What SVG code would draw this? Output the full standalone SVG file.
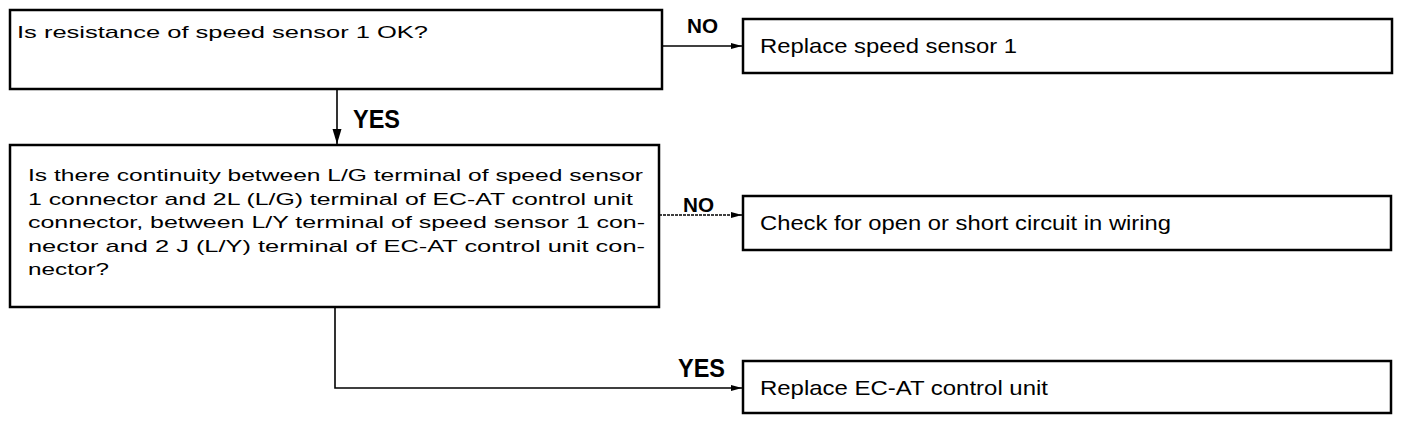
<svg xmlns="http://www.w3.org/2000/svg" width="1408" height="422" viewBox="0 0 1408 422">
<style>
.box{fill:#fff;stroke:#000;stroke-width:2.5}
.t{font-family:"Liberation Sans",Arial,sans-serif;font-size:17px;fill:#000}
.tr{font-family:"Liberation Sans",Arial,sans-serif;font-size:21px;fill:#000}
.lbl{font-family:"Liberation Sans",Arial,sans-serif;font-weight:bold;fill:#000}
.c{fill:none;stroke:#000;stroke-width:1.6}
</style>
<defs>
<marker id="ah" markerUnits="userSpaceOnUse" markerWidth="12" markerHeight="8" refX="11" refY="4" orient="auto">
<path d="M0,1 L11,4 L0,7 z" fill="#000"/>
</marker>
<marker id="av" markerUnits="userSpaceOnUse" markerWidth="16" markerHeight="10" refX="15" refY="5" orient="auto">
<path d="M0,0.5 L15,5 L0,9.5 z" fill="#000"/>
</marker>
</defs>
<g id="connectors">
<line class="c" x1="662" y1="46" x2="742" y2="46" marker-end="url(#ah)"/>
<line class="c" x1="337" y1="89" x2="337" y2="144" marker-end="url(#av)"/>
<line class="c" x1="659" y1="215" x2="742" y2="215" stroke-dasharray="3 1" marker-end="url(#ah)"/>
<polyline class="c" points="335,307 335,388 742,388" marker-end="url(#ah)"/>
<text class="lbl" x="687" y="33" font-size="21" textLength="31" lengthAdjust="spacingAndGlyphs">NO</text>
<text class="lbl" x="353" y="128" font-size="25" textLength="47" lengthAdjust="spacingAndGlyphs">YES</text>
<text class="lbl" x="683" y="212" font-size="21" textLength="31" lengthAdjust="spacingAndGlyphs">NO</text>
<text class="lbl" x="678" y="377" font-size="25" textLength="47" lengthAdjust="spacingAndGlyphs">YES</text>
</g>
<g id="q1">
<rect class="box" x="10" y="10" width="652" height="79"/>
<text class="t" x="17" y="38" textLength="411" lengthAdjust="spacingAndGlyphs">Is resistance of speed sensor 1 OK?</text>
</g>
<g id="r1">
<rect class="box" x="743" y="19" width="649" height="54"/>
<text class="tr" x="760" y="53" textLength="257" lengthAdjust="spacingAndGlyphs">Replace speed sensor 1</text>
</g>
<g id="q2">
<rect class="box" x="10" y="145" width="649" height="162"/>
<text class="t" x="28" y="181" textLength="615" lengthAdjust="spacingAndGlyphs">Is there continuity between L/G terminal of speed sensor</text>
<text class="t" x="28" y="204.5" textLength="605" lengthAdjust="spacingAndGlyphs">1 connector and 2L (L/G) terminal of EC-AT control unit</text>
<text class="t" x="28" y="228" textLength="617" lengthAdjust="spacingAndGlyphs">connector, between L/Y terminal of speed sensor 1 con-</text>
<text class="t" x="28" y="251.5" textLength="617" lengthAdjust="spacingAndGlyphs">nector and 2 J (L/Y) terminal of EC-AT control unit con-</text>
<text class="t" x="28" y="275" textLength="81" lengthAdjust="spacingAndGlyphs">nector?</text>
</g>
<g id="r2">
<rect class="box" x="743" y="196" width="648" height="54"/>
<text class="tr" x="760" y="230" textLength="411" lengthAdjust="spacingAndGlyphs">Check for open or short circuit in wiring</text>
</g>
<g id="r3">
<rect class="box" x="743" y="361" width="648" height="52"/>
<text class="tr" x="760" y="395" textLength="288" lengthAdjust="spacingAndGlyphs">Replace EC-AT control unit</text>
</g>
</svg>
